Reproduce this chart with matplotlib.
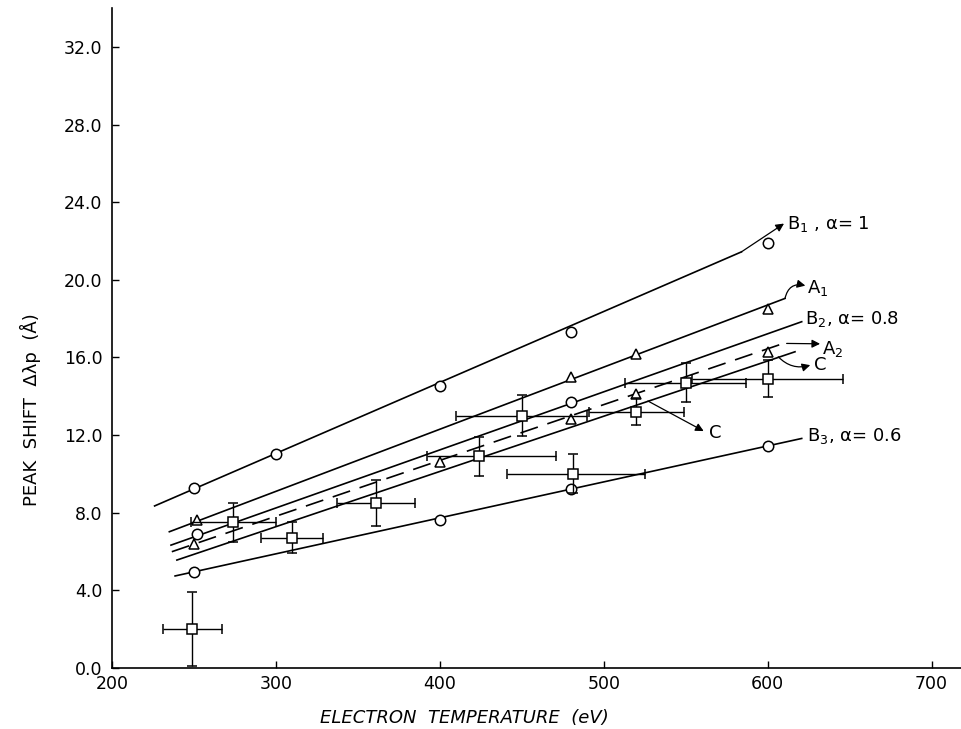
import matplotlib
matplotlib.use("Agg")
import matplotlib.pyplot as plt

# measured points (electron temperature in eV, peak shift in angstrom)
temp_b1 = [250, 300, 400, 480, 600]
shift_b1 = [9.25, 11.0, 14.5, 17.3, 21.9]

temp_a1 = [252, 480, 520, 600]
shift_a1 = [7.6, 15.0, 16.2, 18.5]

temp_b2 = [252, 480]
shift_b2 = [6.9, 13.7]

temp_a2 = [250, 400, 480, 520, 600]
shift_a2 = [6.4, 10.6, 12.8, 14.1, 16.3]

temp_b3 = [250, 400, 480, 600]
shift_b3 = [4.95, 7.6, 9.2, 11.45]

# squares with error bars (case C)
temp_c = [249, 274, 310, 361, 424, 450, 481, 520, 550, 600]
shift_c = [2.0, 7.5, 6.7, 8.5, 10.9, 13.0, 10.0, 13.2, 14.7, 14.9]
xerr_lo = [18, 26, 19, 24, 32, 40, 40, 29, 37, 46]
xerr_hi = [18, 26, 19, 24, 47, 40, 44, 29, 37, 46]
yerr_c = [1.9, 1.0, 0.8, 1.2, 1.0, 1.05, 1.0, 0.7, 1.0, 0.95]

# fitted lines: end points
fit_b1 = ([226, 584], [8.34, 21.44])
fit_a1 = ([235, 610.6], [7.01, 19.04])
fit_b2 = ([236, 620.8], [6.32, 17.84])
fit_a2 = ([236.5, 612.4], [5.98, 16.8])
fit_c = ([239.6, 616.7], [5.55, 16.29])
fit_b3 = ([238.5, 620.8], [4.73, 11.82])

x_ticks = [200, 300, 400, 500, 600, 700]
y_ticks = [0, 4, 8, 12, 16, 20, 24, 28, 32]

fig = plt.figure(figsize=(9.62, 7.29), dpi=100)
ax = fig.add_axes([0.1164, 0.0841, 0.8826, 0.9045])

lw = 1.2
for xs, ys in [fit_b1, fit_a1, fit_b2, fit_c, fit_b3]:
    ax.plot(xs, ys, color="k", lw=lw)
ax.plot(*fit_a2, color="k", lw=lw, ls=(0, (11, 6)))

mk = dict(ls="none", mfc="white", mec="k", mew=1.1, zorder=4)
ax.plot(temp_b1, shift_b1, marker="o", ms=7.5, **mk)
ax.plot(temp_b2, shift_b2, marker="o", ms=7.5, **mk)
ax.plot(temp_b3, shift_b3, marker="o", ms=7.5, **mk)
ax.plot(temp_a1, shift_a1, marker="^", ms=7.5, **mk)
ax.plot(temp_a2, shift_a2, marker="^", ms=7.5, **mk)

ax.errorbar(temp_c, shift_c, xerr=[xerr_lo, xerr_hi], yerr=yerr_c,
            fmt="s", ms=7, mfc="white", mec="k", mew=1.1, ecolor="k",
            elinewidth=1.0, capsize=3.5, capthick=1.0, zorder=5)

fs = 13
arrow = dict(arrowstyle="-|>", color="k", lw=0.9, mutation_scale=12,
             shrinkA=0, shrinkB=0)
ax.annotate("", xy=(610, 22.9), xytext=(584, 21.44), arrowprops=arrow)
ax.text(612, 22.9, "B$_1$ , α= 1", fontsize=fs, va="center")

ax.annotate("", xy=(623, 19.7), xytext=(610.6, 19.04),
            arrowprops=dict(arrow, connectionstyle="arc3,rad=-0.5"))
ax.text(624, 19.6, "A$_1$", fontsize=fs, va="center")

ax.text(623, 18.0, "B$_2$, α= 0.8", fontsize=fs, va="center")

ax.annotate("", xy=(632, 16.7), xytext=(611.6, 16.72), arrowprops=arrow)
ax.text(633, 16.45, "A$_2$", fontsize=fs, va="center")

ax.annotate("", xy=(626, 15.6), xytext=(606.5, 16.03),
            arrowprops=dict(arrow, connectionstyle="arc3,rad=0.3"))
ax.text(628, 15.6, "C", fontsize=fs, va="center")

ax.annotate("", xy=(561, 12.2), xytext=(527, 13.75), arrowprops=arrow)
ax.text(564, 12.1, "C", fontsize=fs, va="center")

ax.text(624, 11.95, "B$_3$, α= 0.6", fontsize=fs, va="center")

ax.set_xlim(200, 718)
ax.set_ylim(0, 34)
ax.set_xticks(x_ticks)
ax.set_xticklabels([str(t) for t in x_ticks])
ax.set_yticks(y_ticks)
ax.set_yticklabels([f"{t:.1f}" for t in y_ticks])
ax.tick_params(direction="in", length=5, width=1, labelsize=12.5)
ax.tick_params(axis="x", pad=5)
ax.tick_params(axis="y", pad=7)
for s in ["top", "right"]:
    ax.spines[s].set_visible(False)
for s in ["left", "bottom"]:
    ax.spines[s].set_linewidth(1.2)

fig.text(0.483, 1 - 718 / 729, "ELECTRON  TEMPERATURE  (eV)", fontsize=13,
         style="italic", ha="center", va="center")
fig.text(30 / 962, 1 - 410 / 729, "PEAK  SHIFT  Δλp  (Å)", fontsize=13,
         rotation=90, ha="center", va="center")

fig.savefig("out.png", dpi=100)
